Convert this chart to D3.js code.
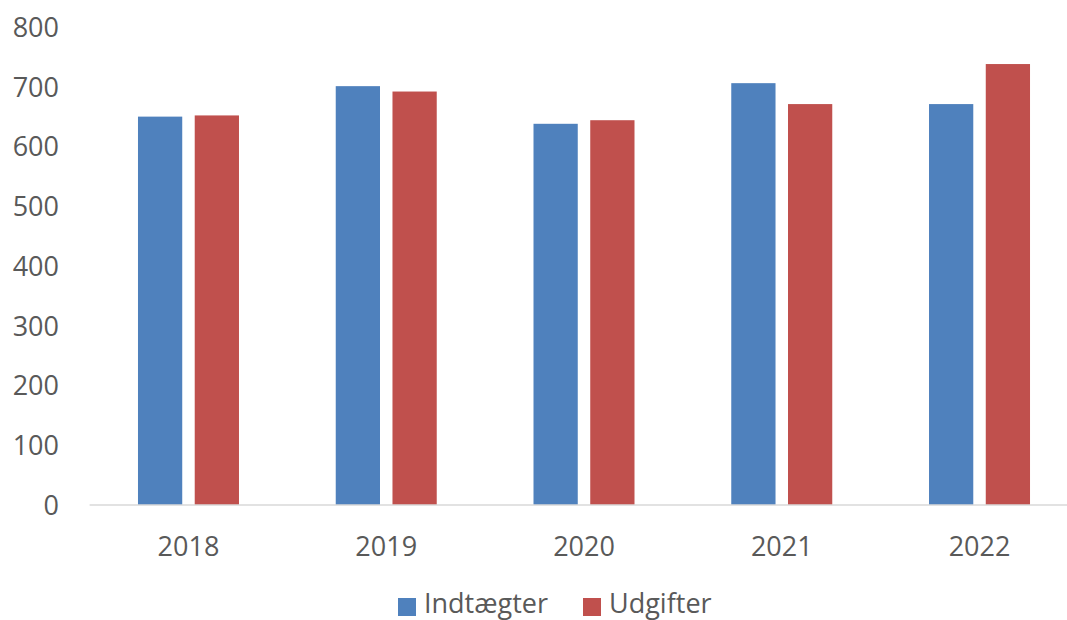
<!DOCTYPE html>
<html><head><meta charset="utf-8">
<script src="https://cdn.jsdelivr.net/npm/d3@7"></script>
<style>body{margin:0;background:#fff}svg{display:block}text{font-family:"Open Sans",sans-serif;fill:#595959}</style>
</head><body>
<svg id="c" width="1067" height="620"></svg>
<script>
const years = ["2018","2019","2020","2021","2022"];
const seriesNames = ["Indtægter","Udgifter"];
const indtaegter = [650, 701, 638, 706, 671];
const udgifter = [652, 692, 644, 671, 738];
const yTicks = [0,100,200,300,400,500,600,700,800];
const colors = ["#4f81bd","#c0504d"];

const svg = d3.select("#c");
const x = d3.scaleBand().domain(years).range([89.6, 1078.4]).padding(0);
const y = d3.scaleLinear().domain([0,800]).range([505, 27]);
const x1 = d3.scaleBand().domain(seriesNames).range([-50.5, 50.5]).paddingInner(0.22);

// y axis labels
const ya = svg.append("g").attr("transform","translate(59,0)")
  .call(d3.axisLeft(y).tickValues(yTicks).tickSize(0).tickPadding(0).tickFormat(d3.format("d")));
ya.select(".domain").remove();
ya.selectAll("text").attr("font-size",27).attr("dy","0.35em").style("font-family","'Open Sans',sans-serif").attr("fill","#595959");

// bars
const data = years.map((yr,i)=>({yr, vals:[indtaegter[i], udgifter[i]]}));
const g = svg.append("g");
data.forEach(d=>{
  const cx = x(d.yr) + x.bandwidth()/2;
  d.vals.forEach((v,j)=>{
    g.append("rect").attr("x", cx + x1(seriesNames[j])).attr("width", x1.bandwidth())
      .attr("y", y(v)).attr("height", y(0)-y(v)).attr("fill", colors[j]);
  });
});

// x axis
const xa = svg.append("g").attr("transform","translate(0,505)")
  .call(d3.axisBottom(x).tickSize(0).tickPadding(0));
xa.select(".domain").attr("stroke","#d9d9d9").attr("stroke-width",1.5).attr("d","M89.6,0H1067");
xa.selectAll("text").attr("font-size",27).attr("y",51).attr("dy",0).style("font-family","'Open Sans',sans-serif").attr("fill","#595959");

// legend
const leg = svg.append("g");
const legX = [398, 583];
seriesNames.forEach((s,i)=>{
  leg.append("rect").attr("x",legX[i]).attr("y",598).attr("width",18).attr("height",18).attr("fill",colors[i]);
  leg.append("text").attr("x",legX[i]+26).attr("y",613).attr("font-size",27).text(s);
});
</script>
</body></html>
